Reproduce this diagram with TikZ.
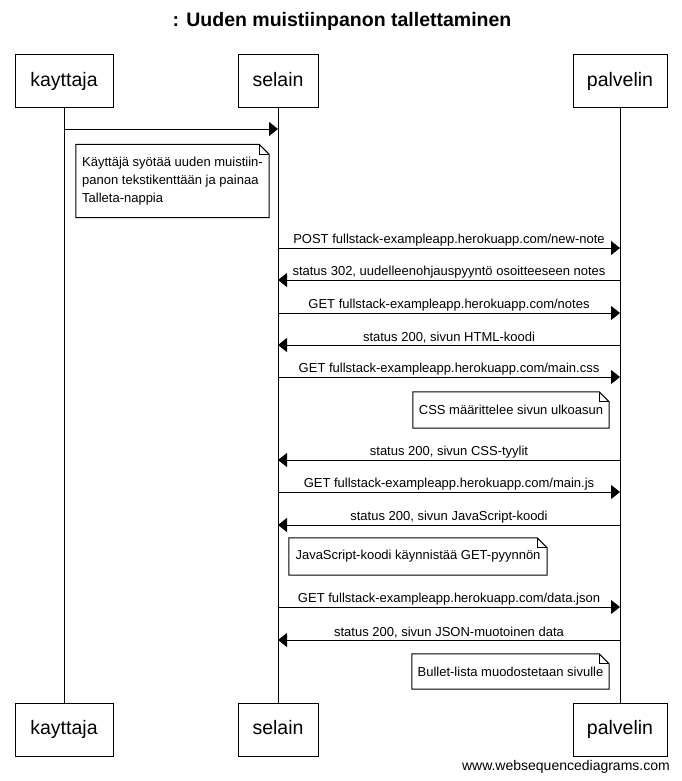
\documentclass[tikz,border=0pt]{standalone}
\usepackage{fontspec}
\setmainfont{Liberation Sans}
\usetikzlibrary{arrows.meta}
% outline of a note: rectangle with a folded top-right corner
\newcommand\notefold[1]{%
  \draw[noteline] (#1.north west) -- ([xshift=-10pt]#1.north east)
    -- ([yshift=-10pt]#1.north east) -- (#1.south east)
    -- (#1.south west) -- cycle;
  \draw[noteline] ([xshift=-10pt]#1.north east) |- ([yshift=-10pt]#1.north east);}
\begin{document}
\begin{tikzpicture}[x=1pt,y=-1pt,
  actor/.style={draw,line width=1pt,inner sep=0pt,minimum height=53pt,
    text height=14pt,text depth=4pt,
    font=\fontsize{19.5}{23}\selectfont},
  life/.style={line width=1pt},
  msg/.style={line width=1pt,-{Triangle[length=9pt,width=14pt]}},
  lbl/.style={font=\fontsize{13}{15}\selectfont,inner sep=1.5pt,above},
  notebody/.style={inner sep=0pt,font=\fontsize{13}{18}\selectfont,align=left},
  noteline/.style={line width=1pt,line join=miter}]
\fill[white] (0,0) rectangle (681,781);
\useasboundingbox (0,0) rectangle (681,781);

% title
\node[font=\fontsize{19.5}{23}\selectfont\bfseries] (title) at (342,21)
  {: Uuden muistiinpanon tallettaminen};

% participants, top and bottom
\node[actor,minimum width=98pt] (k1) at (64,81.5) {kayttaja};
\node[actor,minimum width=80pt] (s1) at (278,81.5) {selain};
\node[actor,minimum width=94pt] (p1) at (620,81.5) {palvelin};
\node[actor,minimum width=98pt] (k2) at (64,729.5) {kayttaja};
\node[actor,minimum width=80pt] (s2) at (278,729.5) {selain};
\node[actor,minimum width=94pt] (p2) at (620,729.5) {palvelin};

% lifelines
\draw[life] (k1) -- (k2);
\draw[life] (s1) -- (s2);
\draw[life] (p1) -- (p2);

% message rows
\coordinate (r1) at (0,129);
\coordinate (r2) at (0,248);
\coordinate (r3) at (0,280);
\coordinate (r4) at (0,313);
\coordinate (r5) at (0,345);
\coordinate (r6) at (0,377);
\coordinate (r7) at (0,460);
\coordinate (r8) at (0,492);
\coordinate (r9) at (0,525);
\coordinate (r10) at (0,607);
\coordinate (r11) at (0,640);

\draw[msg] (k1 |- r1) -- (s1 |- r1);

\node[notebody,minimum width=193pt,minimum height=73pt] (n1) at (172.5,181)
  {Käyttäjä syötää uuden muistiin-\\panon tekstikenttään ja painaa\\Talleta-nappia};
\notefold{n1}

\draw[msg] (s1 |- r2) -- node[lbl] (m2) {POST fullstack-exampleapp.herokuapp.com/new-note} (p1 |- r2);
\draw[msg] (p1 |- r3) -- node[lbl] (m3) {status 302, uudelleenohjauspyyntö osoitteeseen notes} (s1 |- r3);
\draw[msg] (s1 |- r4) -- node[lbl] (m4) {GET fullstack-exampleapp.herokuapp.com/notes} (p1 |- r4);
\draw[msg] (p1 |- r5) -- node[lbl] (m5) {status 200, sivun HTML-koodi} (s1 |- r5);
\draw[msg] (s1 |- r6) -- node[lbl] (m6) {GET fullstack-exampleapp.herokuapp.com/main.css} (p1 |- r6);

\node[notebody,minimum width=196pt,minimum height=36pt] (n2) at (511,410)
  {CSS määrittelee sivun ulkoasun};
\notefold{n2}

\draw[msg] (p1 |- r7) -- node[lbl] (m7) {status 200, sivun CSS-tyylit} (s1 |- r7);
\draw[msg] (s1 |- r8) -- node[lbl] (m8) {GET fullstack-exampleapp.herokuapp.com/main.js} (p1 |- r8);
\draw[msg] (p1 |- r9) -- node[lbl] (m9) {status 200, sivun JavaScript-koodi} (s1 |- r9);

\node[notebody,minimum width=258pt,minimum height=37pt] (n3) at (418,556.5)
  {JavaScript-koodi käynnistää GET-pyynnön};
\notefold{n3}

\draw[msg] (s1 |- r10) -- node[lbl] (m10) {GET fullstack-exampleapp.herokuapp.com/data.json} (p1 |- r10);
\draw[msg] (p1 |- r11) -- node[lbl] (m11) {status 200, sivun JSON-muotoinen data} (s1 |- r11);

\node[notebody,minimum width=197pt,minimum height=35pt] (n4) at (510.5,671.5)
  {Bullet-lista muodostetaan sivulle};
\notefold{n4}

% footer
\node[font=\fontsize{14}{16}\selectfont,anchor=east,inner sep=0pt] (wm) at (670,767)
  {www.websequencediagrams.com};
\end{tikzpicture}
\end{document}
